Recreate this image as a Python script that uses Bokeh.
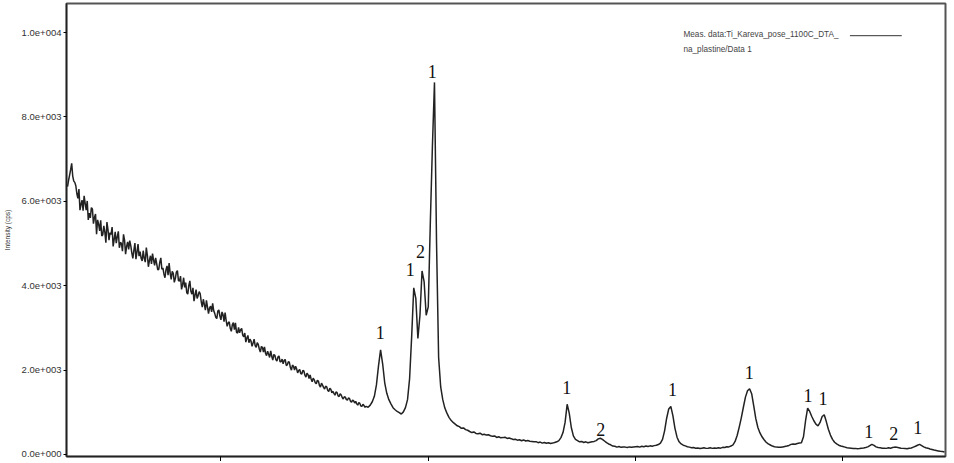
from bokeh.plotting import figure
from bokeh.models import FixedTicker, Label, Arrow, ColumnDataSource
from bokeh.core.properties import value
from bokeh.embed import file_html
from bokeh.resources import INLINE

# 2-theta scan grid: 0.05 deg steps over the noisy low-angle part, 0.1 deg afterwards
two_theta = [round(12.6 + 0.05 * i, 2) for i in range(288)] + [round(27.0 + 0.1 * i, 1) for i in range(280)]

intensity_low = [
    6350, 6500, 6620, 6750, 6900, 6600, 6480, 6450,
    6370, 6180, 6070, 6290, 5790, 5930, 6030, 5780, 6130, 5950, 5790, 6010, 5560, 5720, 5610, 5850, 5820, 5470, 5620, 5700,  # 13
    5220, 5560, 5460, 5300, 5550, 5180, 5210, 5420, 5270, 5020, 5510, 5330, 5080, 5260, 5220, 5390, 4930, 5100, 5280, 5010,  # 14
    5160, 5290, 4900, 5030, 5000, 4820, 5220, 5080, 4750, 4930, 5040, 4860, 5070, 4950, 4780, 4650, 4840, 5010, 4630, 4800,  # 15
    4990, 4700, 4810, 4650, 4590, 4830, 4650, 4560, 4905, 4720, 4450, 4600, 4710, 4520, 4760, 4610, 4485, 4660, 4525, 4380,  # 16
    4385, 4560, 4660, 4390, 4425, 4280, 4190, 4380, 4470, 4250, 4535, 4300, 4150, 4340, 4295, 4080, 4170, 4320, 4360, 4120,  # 17
    4110, 4230, 3915, 4020, 4190, 3960, 4075, 3840, 3800, 4010, 4115, 3870, 3800, 3950, 3635, 3780, 3910, 3700, 3765, 3860,  # 18
    3810, 3620, 3495, 3680, 3550, 3420, 3655, 3500, 3340, 3470, 3515, 3380, 3580, 3410, 3345, 3250, 3220, 3400, 3425, 3280,  # 19
    3190, 3380, 3316, 3150, 3362, 3180, 3038, 3120, 3144, 2990, 2920, 3080, 3126, 2960, 3122, 2900, 2878, 3010, 2884, 2960,  # 20
    2990, 2830, 2791, 2880, 2662, 2760, 2823, 2650, 2734, 2690, 2565, 2640, 2736, 2580, 2537, 2650, 2608, 2500, 2429, 2560,  # 21
    2540, 2430, 2552, 2400, 2344, 2450, 2376, 2300, 2458, 2330, 2240, 2370, 2352, 2250, 2214, 2310, 2336, 2200, 2198, 2260,  # 22
    2150, 2230, 2252, 2110, 2124, 2200, 2186, 2060, 1998, 2120, 2090, 2000, 2092, 2030, 1934, 1990, 2016, 1920, 1908, 1990,  # 23
    1980, 1880, 1836, 1930, 1892, 1800, 1888, 1790, 1724, 1810, 1770, 1700, 1676, 1760, 1742, 1640, 1598, 1690, 1644, 1590,  # 24
    1550, 1620, 1605, 1520, 1490, 1570, 1545, 1460, 1500, 1450, 1405, 1480, 1470, 1390, 1375, 1440, 1410, 1350, 1315, 1370,  # 25
    1360, 1300, 1290, 1340, 1330, 1260, 1240, 1290, 1270, 1220, 1260, 1200, 1170, 1230, 1210, 1150, 1140, 1190, 1160, 1120,  # 26
]

intensity_high = [
    1140, 1120, 1170, 1250, 1380, 1650, 2100, 2480, 2150, 1700,   # 27
    1450, 1300, 1200, 1110, 1060, 1020, 990, 960, 1010, 1110,     # 28
    1300, 1800, 2800, 3950, 3700, 2750, 3300, 4350, 4100, 3300,   # 29
    3500, 5500, 7300, 8820, 5000, 2300, 1600, 1300, 1100, 980,    # 30
    880, 810, 760, 720, 680, 660, 620, 630, 590, 575,             # 31
    545, 520, 535, 500, 490, 505, 470, 480, 460, 470,             # 32
    445, 430, 440, 405, 420, 395, 400, 410, 380, 390,             # 33
    375, 355, 360, 340, 350, 325, 345, 320, 330, 315,             # 34
    310, 300, 305, 280, 295, 270, 285, 265, 280, 260,             # 35
    270, 285, 300, 330, 400, 520, 760, 1190, 980, 640,            # 36
    440, 360, 330, 300, 310, 285, 300, 280, 290, 300,             # 37
    310, 330, 370, 385, 360, 320, 280, 250, 230, 200,             # 38
    195, 175, 190, 170, 180, 175, 165, 180, 170, 180,             # 39
    185, 190, 175, 195, 185, 200, 190, 205, 195, 210,             # 40
    220, 235, 270, 360, 560, 860, 1080, 1140, 920, 620,           # 41
    410, 300, 250, 220, 205, 185, 175, 160, 165, 150,             # 42
    155, 140, 150, 160, 145, 150, 160, 145, 155, 150,             # 43
    160, 150, 170, 165, 185, 180, 200, 230, 310, 450,             # 44
    650, 870, 1120, 1360, 1510, 1560, 1440, 1150, 850, 640,       # 45
    510, 420, 350, 290, 250, 225, 200, 185, 175, 170,             # 46
    170, 180, 190, 200, 215, 240, 250, 245, 260, 270,             # 47
    280, 420, 800, 1100, 1020, 900, 800, 720, 680, 760,           # 48
    900, 940, 780, 600, 460, 360, 290, 250, 220, 200,             # 49
    190, 175, 160, 155, 150, 140, 145, 135, 140, 150,             # 50
    155, 165, 180, 210, 240, 215, 180, 165, 160, 150,             # 51
    150, 145, 160, 150, 165, 175, 170, 160, 150, 145,             # 52
    140, 135, 150, 155, 175, 195, 220, 240, 210, 180,             # 53
    160, 150, 130, 120, 105, 95, 85, 75, 70, 60,                  # 54
]

intensity = intensity_low + intensity_high

# phase labels above the peaks
peak_theta = [27.69, 29.13, 29.62, 30.19, 36.68, 38.32, 41.78, 45.48, 48.32, 49.04, 51.25, 52.45, 53.61]
peak_label_y = [2900, 4390, 4820, 9070, 1590, 595, 1545, 1950, 1400, 1330, 546, 500, 640]
peak_label = ["1", "1", "2", "1", "1", "2", "1", "1", "1", "1", "1", "2", "1"]

y_ticks = [0, 2000, 4000, 6000, 8000, 10000]
y_tick_labels = ["0.0e+000", "2.0e+003", "4.0e+003", "6.0e+003", "8.0e+003", "1.0e+004"]
x_ticks = [20, 30, 40, 50]

legend_text_1 = "Meas. data:Ti_Kareva_pose_1100C_DTA_"
legend_text_2 = "na_plastine/Data 1"

p = figure(
    width=950, height=461,
    x_range=(12.55, 54.95), y_range=(-47.5, 10690),
    output_backend="svg", toolbar_location=None,
    min_border_left=63, min_border_right=5, min_border_top=3, min_border_bottom=0,
    background_fill_color="white", border_fill_color="white",
)
p.grid.visible = False
p.outline_line_color = "#555555"
p.outline_line_width = 2

p.line(two_theta, intensity, line_color="#222222", line_width=1.5)

src = ColumnDataSource(dict(x=peak_theta, y=peak_label_y, t=peak_label))
p.text(x="x", y="y", text="t", source=src, text_align="center", text_baseline="middle",
       text_font=value("Liberation Serif"), text_font_size="18px", text_color="#111111")

# legend (drawn as annotations, line sample on the right of the text)
p.add_layout(Label(x=42.31, y=9951, text=legend_text_1, text_font="Liberation Sans",
                   text_font_size="8.2px", text_color="#444444", text_baseline="middle"))
p.add_layout(Label(x=42.31, y=9595, text=legend_text_2, text_font="Liberation Sans",
                   text_font_size="8.2px", text_color="#444444", text_baseline="middle"))
p.add_layout(Arrow(x_start=50.34, y_start=9927, x_end=52.84, y_end=9927, start=None, end=None,
                   line_color="#333333", line_width=1))

# y axis
p.yaxis.ticker = FixedTicker(ticks=y_ticks)
p.yaxis.major_label_overrides = {t: l for t, l in zip(y_ticks, y_tick_labels)}
p.yaxis.minor_tick_line_color = None
p.yaxis.major_tick_out = 3
p.yaxis.major_tick_in = 0
p.yaxis.major_label_standoff = 2
p.yaxis.major_label_text_font = "Liberation Sans"
p.yaxis.major_label_text_font_size = "9.5px"
p.yaxis.major_label_text_color = "#333333"
p.yaxis.axis_label = "Intensity (cps)"
p.yaxis.axis_label_text_font = "Liberation Sans"
p.yaxis.axis_label_text_font_size = "6.5px"
p.yaxis.axis_label_text_font_style = "normal"
p.yaxis.axis_label_text_color = "#333333"
p.yaxis.axis_label_standoff = 8
p.yaxis.axis_line_color = "#222222"
p.yaxis.axis_line_width = 1.5

# x axis (tick labels are cut off in the reference)
p.xaxis.ticker = FixedTicker(ticks=x_ticks)
p.xaxis.major_label_overrides = {t: "" for t in x_ticks}
p.xaxis.major_label_text_font_size = "1px"
p.xaxis.major_label_standoff = 0
p.xaxis.minor_tick_line_color = None
p.xaxis.major_tick_out = 5
p.xaxis.major_tick_in = 0
p.xaxis.axis_line_color = "#222222"
p.xaxis.axis_line_width = 1.5

open("out.html", "w").write(file_html(p, INLINE))
